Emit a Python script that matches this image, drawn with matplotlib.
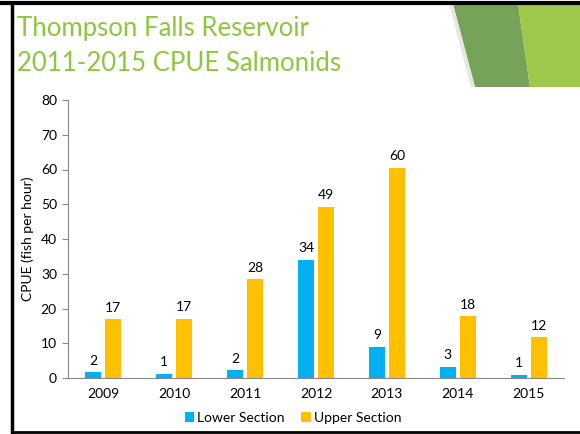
import numpy as np
import matplotlib
matplotlib.use("Agg")
import matplotlib.pyplot as plt
from matplotlib.patches import Polygon

years = ["2009", "2010", "2011", "2012", "2013", "2014", "2015"]
lower = [1.7, 1.2, 2.2, 34.0, 9.0, 3.2, 1.0]
upper = [16.9, 17.0, 28.4, 49.2, 60.5, 17.8, 11.7]
lower_lbl = ["2", "1", "2", "34", "9", "3", "1"]
upper_lbl = ["17", "17", "28", "49", "60", "18", "12"]

plt.rcParams['font.family'] = ['Lato', 'DejaVu Sans']

fig = plt.figure(figsize=(5.8, 4.34), dpi=100)
W, H = 580.0, 434.0

def fx(px):
    return px / W

def fy(py):
    return 1 - py / H

# slide decoration (top right)
fig.patches.append(Polygon([(fx(453), fy(4)), (fx(518), fy(4)), (fx(530), fy(87)), (fx(475), fy(87))],
                           closed=True, transform=fig.transFigure, facecolor="#76A25A", edgecolor="none"))
fig.patches.append(Polygon([(fx(518), fy(4)), (fx(580), fy(4)), (fx(580), fy(87)), (fx(530), fy(87))],
                           closed=True, transform=fig.transFigure, facecolor="#9DC84A", edgecolor="none"))
fig.patches.append(Polygon([(fx(449), fy(4)), (fx(453), fy(4)), (fx(475), fy(87)), (fx(471), fy(87))],
                           closed=True, transform=fig.transFigure, facecolor="#E4E8E0", edgecolor="none"))

# slide border
fig.add_artist(plt.Line2D([fx(0), fx(580)], [fy(3), fy(3)], transform=fig.transFigure, color="black", lw=3))
fig.add_artist(plt.Line2D([fx(12), fx(12)], [fy(3), fy(432)], transform=fig.transFigure, color="black", lw=2.5))
fig.add_artist(plt.Line2D([fx(12), fx(580)], [fy(432), fy(432)], transform=fig.transFigure, color="black", lw=2))

fig.text(fx(17), fy(36), "Thompson Falls Reservoir", fontsize=18.5, color="#8DC63F", va="baseline", ha="left")
fig.text(fx(17), fy(71), "2011-2015 CPUE Salmonids", fontsize=18.5, color="#8DC63F", va="baseline", ha="left")

ax = fig.add_axes([fx(68), fy(378), fx(564) - fx(68), (378 - 100) / H])
x = np.arange(len(years))
bw = 0.226
off = 0.141
b1 = ax.bar(x - off, lower, bw, color="#00B0F0", label="Lower Section")
b2 = ax.bar(x + off, upper, bw, color="#FFC000", label="Upper Section")
for rect, t in zip(b1, lower_lbl):
    ax.annotate(t, (rect.get_x() + rect.get_width() / 2, rect.get_height()), xytext=(0, 4),
                textcoords="offset points", ha="center", va="bottom", fontsize=10)
for rect, t in zip(b2, upper_lbl):
    ax.annotate(t, (rect.get_x() + rect.get_width() / 2, rect.get_height()), xytext=(0, 4),
                textcoords="offset points", ha="center", va="bottom", fontsize=10)

ax.set_xlim(-0.5, len(years) - 0.5)
ax.set_ylim(0, 80)
ax.set_yticks(range(0, 81, 10))
ax.set_xticks(x)
ax.set_xticklabels(years)
ax.tick_params(axis="x", length=0, labelsize=10, pad=7)
ax.tick_params(axis="y", length=4, color="#888888", labelsize=10, pad=4)
for s in ["top", "right"]:
    ax.spines[s].set_visible(False)
ax.spines["left"].set_color("#888888")
ax.spines["bottom"].set_color("#888888")
ax.set_ylabel("CPUE (fish per hour)", fontsize=10, labelpad=5)

fig.legend(handles=[b1, b2], loc="center", bbox_to_anchor=(fx(293), fy(418)), ncol=2, frameon=False,
           fontsize=10, handlelength=0.7, handleheight=0.7, handletextpad=0.2, columnspacing=1.2)

fig.savefig("out.png", dpi=100)
